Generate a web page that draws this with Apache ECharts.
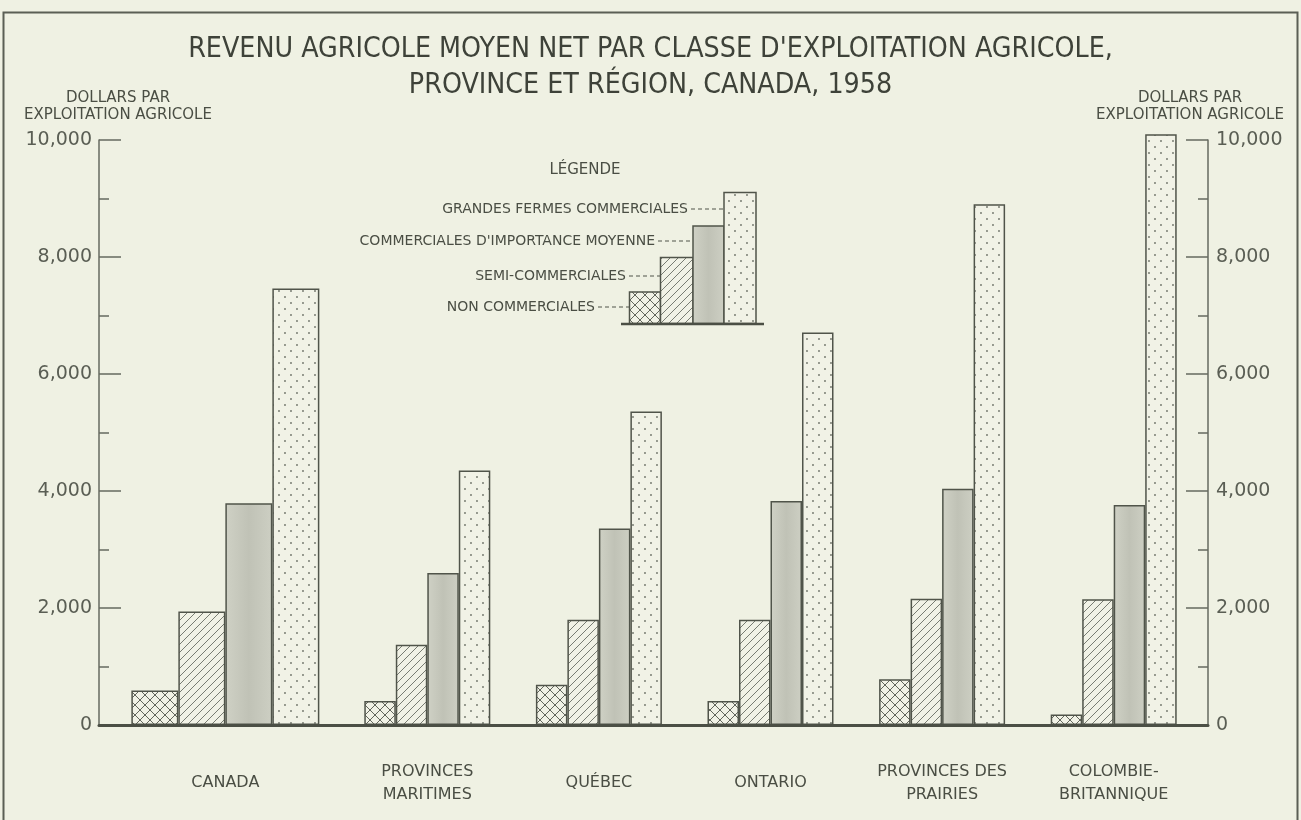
<!DOCTYPE html>
<html>
<head>
<meta charset="utf-8">
<script src="https://cdn.jsdelivr.net/npm/echarts@6/dist/echarts.min.js"></script>
<style>
html,body{margin:0;padding:0;background:#eff1e3;}
#chart{width:1301px;height:820px;}
</style>
</head>
<body>
<div id="chart"></div>
<script>
// ---- data ----
const categories = ['CANADA', 'PROVINCES\nMARITIMES', 'QUÉBEC', 'ONTARIO', 'PROVINCES DES\nPRAIRIES', 'COLOMBIE-\nBRITANNIQUE'];
const classNames = ['NON COMMERCIALES', 'SEMI-COMMERCIALES', "COMMERCIALES D'IMPORTANCE MOYENNE", 'GRANDES FERMES COMMERCIALES'];
const nonCommerciales   = [590, 410, 690, 410, 780, 180];
const semiCommerciales  = [1940, 1370, 1800, 1800, 2160, 2150];
const importanceMoyenne = [3790, 2600, 3360, 3830, 4040, 3760];
const grandesFermes     = [7460, 4350, 5360, 6710, 8900, 10100];
const yTickValues = [0, 2000, 4000, 6000, 8000, 10000];
const titleLines = ["REVENU AGRICOLE MOYEN NET PAR CLASSE D'EXPLOITATION AGRICOLE,", 'PROVINCE ET RÉGION, CANADA, 1958'];
const axisTitle = ['DOLLARS PAR', 'EXPLOITATION AGRICOLE'];
const legendTitle = 'LÉGENDE';

// ---- fonts ----
function hasFont(f) {
  const c = document.createElement('canvas').getContext('2d');
  const s = 'ABCDEFGHIJKLMNOPQRSTUVWXYZ abcdefghij 0123456789';
  return ['monospace', 'serif', 'sans-serif'].some(function (base) {
    c.font = '40px ' + base; const w0 = c.measureText(s).width;
    c.font = '40px "' + f + '", ' + base; return c.measureText(s).width !== w0;
  });
}
const titleFont = ['Liberation Sans Narrow', 'DejaVu Sans Condensed', 'Roboto Condensed', 'Liberation Sans'].find(hasFont) || 'sans-serif';
const bodyFont = hasFont('DejaVu Sans') ? 'DejaVu Sans' : 'sans-serif';
let titleSize = 28;
(function () {
  const c = document.createElement('canvas').getContext('2d');
  c.font = '28px "' + titleFont + '"';
  const w = c.measureText(titleLines[0]).width;
  titleSize = Math.max(18, Math.min(32, 28 * 925 / w));
})();

// ---- patterns ----
const INK = '#50544a';
const BAR_BG = '#f1f2e6';
function pattern(w, h, draw) {
  const c = document.createElement('canvas');
  c.width = w; c.height = h;
  const g = c.getContext('2d');
  g.fillStyle = BAR_BG; g.fillRect(0, 0, w, h);
  draw(g);
  return { image: c, repeat: 'repeat' };
}
const crossFill = pattern(10, 10, function (g) {
  g.strokeStyle = '#62665c'; g.lineWidth = 1;
  g.beginPath(); g.moveTo(0, 0); g.lineTo(10, 10); g.moveTo(10, 0); g.lineTo(0, 10); g.stroke();
});
const diagFill = pattern(8, 8, function (g) {
  g.strokeStyle = '#6a6e64'; g.lineWidth = 0.9;
  g.beginPath(); g.moveTo(0, 8); g.lineTo(8, 0); g.moveTo(-1, 1); g.lineTo(1, -1); g.moveTo(7, 9); g.lineTo(9, 7); g.stroke();
});
const dotFill = pattern(12, 12, function (g) {
  g.fillStyle = '#6c7066';
  g.beginPath(); g.arc(3, 3, 0.9, 0, Math.PI * 2); g.arc(9, 9, 0.9, 0, Math.PI * 2); g.fill();
});
const greyFill = { type: 'linear', x: 0, y: 0, x2: 1, y2: 0, colorStops: [
  { offset: 0, color: '#cfd1c5' }, { offset: 0.5, color: '#c0c2b6' }, { offset: 1, color: '#cdcfc3' }] };
const fills = [crossFill, diagFill, greyFill, dotFill];
const seriesValues = [nonCommerciales, semiCommerciales, importanceMoyenne, grandesFermes];

// ---- series ----
const series = [];
seriesValues.forEach(function (vals, i) {
  series.push({
    type: 'bar', name: classNames[i], xAxisIndex: 1, yAxisIndex: 2,
    data: vals.slice(0, 1), barWidth: 47, barGap: '0%', clip: false, silent: true,
    itemStyle: { color: fills[i], borderColor: INK, borderWidth: 1.5 }
  });
});
seriesValues.forEach(function (vals, i) {
  series.push({
    type: 'bar', name: classNames[i], xAxisIndex: 2, yAxisIndex: 3,
    data: vals.slice(1), barWidth: 31.5, barGap: '0%', clip: false, silent: true,
    itemStyle: { color: fills[i], borderColor: INK, borderWidth: 1.5 }
  });
});

const fmt = function (v) { return yTickValues.indexOf(v) >= 0 ? v.toLocaleString('en-US') : ''; };
const yBase = {
  gridIndex: 0, type: 'value', min: 0, max: 10000, interval: 2000,
  axisLine: { show: true, lineStyle: { color: '#666a60', width: 1.5 } },
  axisTick: { show: true, inside: true, length: 22, lineStyle: { color: '#666a60', width: 1.5 } },
  minorTick: { show: true, splitNumber: 2, length: 10, lineStyle: { color: '#666a60', width: 1.5 } },
  splitLine: { show: false },
  axisLabel: { formatter: fmt, fontFamily: bodyFont, fontSize: 19, color: '#5a5e54' }
};
const catLabel = { fontFamily: bodyFont, fontSize: 16, color: '#4a4e44', lineHeight: 23, verticalAlign: 'middle', margin: 58, interval: 0 };

const labelStyle = { fontFamily: bodyFont, fontSize: 14, fill: '#4a4e44' };
function txt(x, y, text, align, extra) {
  return { type: 'text', x: x, y: y, silent: true,
    style: Object.assign({ text: text, textAlign: align, textVerticalAlign: 'middle' }, labelStyle, extra || {}) };
}
function dash(x1, x2, y) {
  return { type: 'line', silent: true, shape: { x1: x1, y1: y, x2: x2, y2: y }, style: { stroke: '#50544a', lineWidth: 1.2, lineDash: [4, 3] } };
}
function swatch(x, y, w, h, fill) {
  return { type: 'rect', silent: true, shape: { x: x, y: y, width: w, height: h }, style: { fill: fill, stroke: INK, lineWidth: 1.5 } };
}

const graphic = [
  { type: 'rect', silent: true, shape: { x: 3.5, y: 12.5, width: 1294, height: 830 }, style: { fill: 'none', stroke: '#5b5f55', lineWidth: 2 } },
  txt(118, 98, axisTitle[0], 'center', { fontSize: 15 }),
  txt(118, 115, axisTitle[1], 'center', { fontSize: 15 }),
  txt(1190, 98, axisTitle[0], 'center', { fontSize: 15 }),
  txt(1190, 115, axisTitle[1], 'center', { fontSize: 15 }),
  txt(585, 170, legendTitle, 'center', { fontSize: 15 }),
  swatch(629.5, 292, 31, 31.5, crossFill),
  swatch(660.5, 257.5, 32.5, 66, diagFill),
  swatch(693, 226, 31, 97.5, greyFill),
  swatch(724, 192.5, 32, 131, dotFill),
  { type: 'line', silent: true, shape: { x1: 621, y1: 324, x2: 764, y2: 324 }, style: { stroke: '#4b4f45', lineWidth: 2.5 } },
  txt(688, 209, classNames[3], 'right'), dash(691, 723, 209),
  txt(655, 241, classNames[2], 'right'), dash(658, 692, 241),
  txt(626, 276, classNames[1], 'right'), dash(629, 660, 276),
  txt(595, 307, classNames[0], 'right'), dash(598, 629, 307)
];

const chart = echarts.init(document.getElementById('chart'), null, { renderer: 'canvas' });
chart.setOption({
  animation: false,
  backgroundColor: '#eff1e3',
  title: {
    text: titleLines.join('\n'), left: 'center', top: 27,
    textStyle: { fontFamily: titleFont, fontSize: titleSize, fontWeight: 'normal', color: '#3e4239', lineHeight: 36 }
  },
  grid: [
    { left: 99, right: 93, top: 140, bottom: 95 },
    { left: 131.7, width: 187.3, top: 140, bottom: 95 },
    { left: 341.5, width: 858, top: 140, bottom: 95 }
  ],
  xAxis: [
    { gridIndex: 0, type: 'value', min: 0, max: 1, z: 5,
      axisLine: { show: true, onZero: false, lineStyle: { color: '#4b4f45', width: 3 } },
      axisTick: { show: false }, axisLabel: { show: false }, splitLine: { show: false } },
    { gridIndex: 1, type: 'category', data: categories.slice(0, 1),
      axisLine: { show: false }, axisTick: { show: false }, axisLabel: catLabel },
    { gridIndex: 2, type: 'category', data: categories.slice(1),
      axisLine: { show: false }, axisTick: { show: false }, axisLabel: catLabel }
  ],
  yAxis: [
    Object.assign({}, yBase, { position: 'left', axisLabel: Object.assign({}, yBase.axisLabel, { margin: 7 }) }),
    Object.assign({}, yBase, { position: 'right', axisLabel: Object.assign({}, yBase.axisLabel, { margin: 8 }) }),
    { gridIndex: 1, type: 'value', min: 0, max: 10000, show: false },
    { gridIndex: 2, type: 'value', min: 0, max: 10000, show: false }
  ],
  series: series,
  graphic: graphic
});
</script>
</body>
</html>
